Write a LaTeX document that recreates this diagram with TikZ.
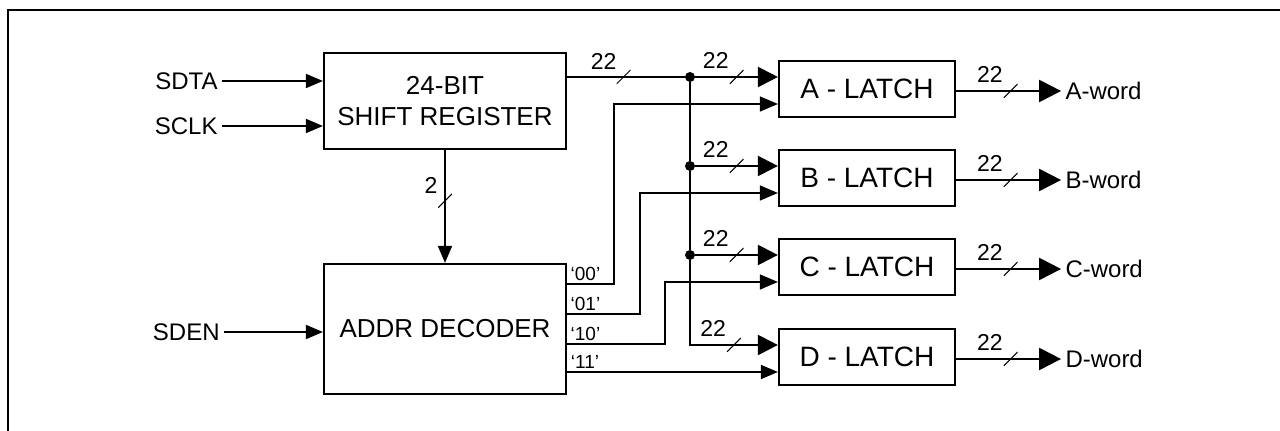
\documentclass[tikz,border=0pt]{standalone}
\usepackage{fontspec}
\setmainfont{Liberation Sans}
\usetikzlibrary{arrows.meta, positioning, calc}
\tikzset{
  blk/.style   = {draw, line width=1.1pt, align=center, inner sep=0pt,
                  font=\fontsize{13}{15.5}\selectfont},
  latch/.style = {blk, minimum width=88pt, minimum height=28pt,
                  font=\fontsize{14}{16}\selectfont},
  pin/.style   = {inner sep=2pt, font=\fontsize{12}{14}\selectfont},
  code/.style  = {anchor=south west, inner sep=1.5pt,
                  font=\fontsize{9.5}{11}\selectfont},
  wlbl/.style  = {inner sep=0.5pt, label distance=-1.5pt,
                  font=\fontsize{11.5}{13}\selectfont},
  bw/.style    = {inner sep=0pt, minimum size=7pt,
                  path picture={\draw[-, line width=0.5pt]
                    (path picture bounding box.south west) --
                    (path picture bounding box.north east);}},
  dot/.style   = {circle, fill, inner sep=0pt, minimum size=5pt},
  sig/.style   = {line width=0.85pt, -{Triangle[length=8.5pt, width=7pt]}},
  dsig/.style  = {line width=0.6pt, -{Triangle[length=9pt, width=7.5pt]}},
  wire/.style  = {line width=0.6pt},
  bus/.style   = {line width=1.1pt, -{Triangle[length=10pt, width=10pt]}},
  obus/.style  = {line width=1.1pt, -{Triangle[length=11pt, width=11pt]}},
  frm/.style   = {line width=1pt},
}

\begin{document}
\begin{tikzpicture}[x=0.5pt, y=-0.5pt]
    \useasboundingbox (0,0) rectangle (1280,431);
    \draw[frm] (8,431) -- (8,10.5) -- (1280,10.5);

    % blocks
    \node[blk, minimum width=121pt, minimum height=48pt] (sr) at (445,101)
      {24-BIT\\SHIFT REGISTER};
    \node[blk, minimum width=121pt, minimum height=65pt] (dec) at (445,329)
      {ADDR DECODER};
    \foreach \n/\y in {A/89, B/178, C/267, D/357}
      \node[latch] (l\n) at (867,\y) {\n\ - LATCH};

    % serial inputs
    \node[pin, anchor=east] (sdta) at (222,81) {SDTA};
    \node[pin, anchor=east] (sclk) at (222,126) {SCLK};
    \node[pin, anchor=east] (sden) at (224,332) {SDEN};
    \draw[sig] (sdta) -- (sdta -| sr.west);
    \draw[sig] (sclk) -- (sclk -| sr.west);
    \draw[sig] (sden) -- (sden -| dec.west);
    \draw[sig] (sr) -- node[bw, pos=.45, label={[wlbl]above left:2}] {} (dec);

    % data bus
    \foreach \n/\y in {A/77, B/166, C/255}
      \node[dot] (j\n) at (690,\y) {};
    \coordinate (jD) at (690,345);
    \draw[wire] (sr.east |- jA) --
      node[bw, pos=.48, label={[wlbl]above left:22}] {} (jA);
    \draw[line width=1.1pt] (jA) -- (jB) -- (jC);
    \foreach \n in {A,B,C}
      \draw[bus] (j\n) -- node[bw, pos=.5, label={[wlbl]above left:22}] {}
        (l\n.west |- j\n);
    \draw[bus] (jC) -- (jD) --
      node[bw, pos=.5, label={[wlbl]above left:22}] {} (lD.west |- jD);

    % latch enables
    \draw[dsig] (dec.east |- 0,284) node[code] {‘00’} -| (614,104)
      -- (lA.west |- 0,104);
    \draw[dsig] (dec.east |- 0,314) node[code] {‘01’} -| (640,193)
      -- (lB.west |- 0,193);
    \draw[dsig] (dec.east |- 0,344) node[code] {‘10’} -| (665,282)
      -- (lC.west |- 0,282);
    \draw[sig] (dec.east |- 0,372) node[code] {‘11’} -- (lD.west |- 0,372);

    % outputs
    \foreach \n in {A,B,C,D}{
      \node[pin, anchor=west] (w\n) at ($(l\n.east)+(105,2)$) {\n-word};
      \draw[obus] (l\n.east |- w\n) --
        node[bw, pos=.52, label={[wlbl]above left:22}] {} (w\n.west);
    }
\end{tikzpicture}
\end{document}
